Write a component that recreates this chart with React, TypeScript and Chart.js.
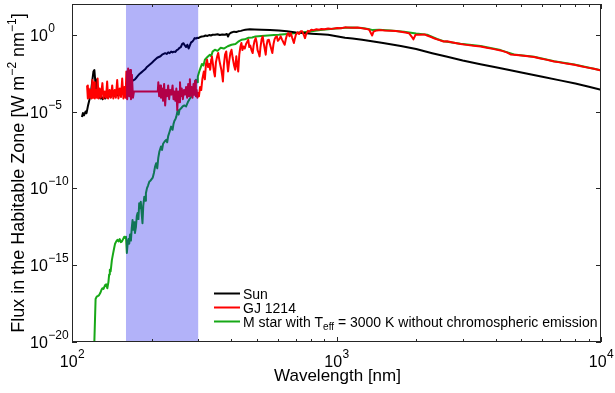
import { useEffect, useRef } from 'react';
import { Chart, registerables } from 'chart.js';

Chart.register(...registerables);

const FONT = '"Liberation Sans", Arial, Helvetica, sans-serif';

// ---- Data: [wavelength nm, log10 flux W m^-2 nm^-1] ----
const sunSpectrum: [number, number][] = [
  [109, -5.35], [110, -5.1], [111, -5.25], [112.5, -5.0], [113.5, -5.1], [115, -4.6], [116.5, -4.2], [118, -3.7],
  [119.3, -3.0], [120.5, -2.4], [121.5, -2.3], [122.3, -2.9], [123.2, -3.8], [124.2, -4.0], [125.3, -3.85],
  [126.6, -3.95], [128, -4.15], [129.3, -4.05], [130.5, -4.2], [132, -4.05], [133.5, -4.15], [135, -4.0],
  [136.5, -4.1], [138, -3.95], [140, -4.05], [142, -3.9], [144, -4.0], [146.5, -3.9], [149, -3.95], [151, -3.85],
  [153, -3.9], [155, -3.8], [157, -3.75], [159, -3.6], [161, -3.5], [163, -3.35], [165, -3.2], [167, -3.1],
  [169, -3.0], [171, -2.95], [173, -2.9], [175, -2.8], [177, -2.7], [180, -2.55], [183, -2.45], [186, -2.35],
  [189, -2.25], [192, -2.1], [195, -2.0], [198, -1.9], [201, -1.8], [204, -1.7], [207, -1.6], [210, -1.5],
  [213, -1.45], [216, -1.4], [219, -1.3], [222, -1.25], [225, -1.2], [228, -1.25], [231, -1.15], [234, -1.2],
  [237, -1.1], [240, -1.15], [243, -1.1], [246, -1.12], [249, -1.0], [252, -0.95], [255, -0.85], [258, -0.8],
  [261, -0.6], [264, -0.55], [267, -0.7], [270, -0.8], [273, -0.65], [276, -0.9], [279, -0.7], [282, -0.5],
  [285, -0.45], [288, -0.35], [291, -0.22], [294, -0.25], [297, -0.2], [300, -0.22], [305, -0.15], [310, -0.12],
  [315, -0.1], [320, -0.05], [325, -0.08], [330, -0.02], [335, -0.05], [340, 0.0], [347, 0.0], [355, 0.03],
  [362, -0.02], [370, 0.02], [379, 0.0], [385, 0.05], [389, -0.12], [393, 0.05], [401, 0.15], [410, 0.2],
  [418, 0.18], [425, 0.22], [435, 0.25], [445, 0.3], [452, 0.33], [470, 0.35], [490, 0.34], [521, 0.33],
  [560, 0.31], [605, 0.28], [650, 0.22], [702, 0.15], [750, 0.11], [804, 0.07], [870, 0.03], [930, 0.0],
  [1000, -0.1], [1077, -0.2], [1150, -0.24], [1250, -0.33], [1500, -0.54], [1750, -0.74], [2000, -0.93],
  [2300, -1.2], [2600, -1.42], [3000, -1.68], [3500, -1.92], [4000, -2.12], [4500, -2.3], [5000, -2.46],
  [6000, -2.74], [7000, -2.97], [8000, -3.18], [9000, -3.39], [10000, -3.59],
];

const gj1214Spectrum: [number, number][] = [
  [114, -3.3], [114.8, -4.15], [115.7, -3.5], [116.6, -4.1], [117.6, -3.6], [118.5, -4.15], [119.4, -2.95],
  [120.2, -4.1], [121.2, -3.1], [122, -4.15], [123.2, -3.6], [124.2, -4.1], [125, -2.85], [126, -4.15],
  [127.2, -3.5], [128.5, -4.1], [130.3, -3.15], [131.5, -4.15], [133, -3.7], [134.5, -4.1], [135.8, -3.05],
  [137, -4.15], [138.8, -3.6], [140.3, -4.1], [141.9, -3.3], [143.3, -4.15], [145, -3.6], [146.5, -4.1],
  [148.2, -2.95], [149.8, -4.15], [151.6, -3.5], [153.2, -4.05], [154.8, -2.85], [156.5, -4.15], [158, -3.4],
  [159.5, -4.1], [160.5, -2.4], [161.7, -4.2], [163, -2.2], [164.6, -4.0], [166, -2.3], [167.1, -4.2],
  [168.5, -2.6], [170, -4.1], [171.5, -3.7], [211, -3.7],
  [212, -3.1], [213.5, -4.0], [215.5, -3.3], [217, -4.1], [219, -3.5], [221, -4.3], [223, -3.2], [225, -4.6],
  [227, -3.6], [229, -4.0], [231, -3.3], [233, -4.2], [235, -3.6], [237.5, -3.9], [240, -3.3], [242, -4.2],
  [244, -3.7], [246, -4.3], [248, -3.5], [250, -4.9], [252, -3.7], [254, -4.4], [256, -3.1], [258, -4.0],
  [260, -3.5], [262.5, -4.2], [265, -3.6], [267.5, -3.9], [270, -3.4], [272.5, -4.1], [275, -3.2], [277, -4.0],
  [279, -2.9], [281, -3.9], [283, -3.4], [285.5, -4.1], [288, -3.2], [290, -3.9], [292, -3.0], [294, -4.0],
  [296, -3.6], [298, -4.1], [300, -3.8],
  [302, -4.0], [305, -3.4], [308, -3.6], [311, -2.9], [315, -2.4], [318, -2.9], [321, -1.9], [324, -1.63],
  [327, -2.1], [330, -1.9], [333, -2.28], [336, -1.6], [338, -1.41], [341, -1.9], [344, -2.4], [347, -2.72],
  [350, -1.8], [354, -1.4], [357, -1.19], [361, -1.7], [364, -2.0], [367, -2.28], [370, -2.7], [372, -3.04],
  [375, -2.0], [379, -1.3], [383, -1.09], [386, -1.8], [389, -2.39], [393, -1.7], [397, -1.2], [401, -0.98],
  [405, -1.5], [410, -2.0], [414, -2.28], [418, -1.4], [421, -1.9], [425, -2.39], [429, -1.3], [433, -0.8],
  [437, -0.54], [441, -1.0], [445, -0.76], [450, -0.9], [455, -0.6], [460, -0.45], [464, -0.33], [468, -0.8],
  [472, -0.7], [477, -1.0], [482, -1.19], [486, -0.7], [490, -0.4], [495, -0.22], [499, -0.5], [503, -1.0],
  [508, -1.2], [512, -1.41], [516, -0.8], [521, -0.3], [526, -0.11], [530, -0.5], [535, -0.9], [540, -1.3],
  [544, -0.7], [549, -0.35], [555, -0.33], [560, -0.6], [566, -0.9], [572, -1.19], [578, -0.6], [583, -0.3],
  [589, -0.15], [595, -0.11], [600, -0.4], [607, -0.3], [615, -0.11], [622, -0.3], [630, -0.5], [637, -0.65],
  [643, -0.3], [650, 0.0], [657, 0.11], [664, -0.1], [672, 0.1], [680, -0.2], [690, -0.54], [695, -0.3],
  [702, 0.0], [712, 0.15], [722, 0.05], [732, 0.22], [742, 0.22], [752, 0.0], [760, -0.22], [768, 0.05],
  [780, 0.25], [790, 0.2], [803, 0.33], [820, 0.3], [840, 0.36], [860, 0.33], [876, 0.37], [900, 0.35],
  [930, 0.4], [960, 0.38], [1006, 0.44], [1040, 0.42], [1077, 0.48],
  [1100, 0.47], [1150, 0.45], [1200, 0.47], [1250, 0.42], [1300, 0.38], [1330, 0.32], [1350, 0.1], [1364, -0.05],
  [1380, 0.2], [1420, 0.28], [1470, 0.3], [1520, 0.27], [1600, 0.26], [1680, 0.24], [1750, 0.2], [1820, 0.15],
  [1880, 0.1], [1920, -0.1], [1953, -0.3], [1990, 0.0], [2071, 0.0], [2150, 0.02], [2200, -0.05], [2280, -0.15],
  [2350, -0.25], [2450, -0.35], [2540, -0.44], [2620, -0.42], [2750, -0.5], [2942, -0.61], [3100, -0.66],
  [3300, -0.72], [3505, -0.76], [3700, -0.85], [3900, -0.92], [4169, -1.02], [4400, -1.15], [4550, -1.28],
  [4687, -1.3], [4900, -1.33], [5200, -1.38], [5584, -1.45], [5900, -1.55], [6200, -1.62], [6652, -1.74],
  [7000, -1.8], [7400, -1.88], [7925, -1.96], [8400, -2.05], [8900, -2.14], [9400, -2.22], [10000, -2.33],
];

const mStarSpectrum: [number, number][] = [
  [121, -21], [122.8, -17.2], [124, -17.05], [125.5, -17.0], [126.6, -16.95], [128, -16.8], [129.3, -16.6],
  [130.3, -16.5], [131.5, -16.55], [133.4, -16.3], [134.7, -16.25], [136, -16.5], [137.3, -16.1], [138.2, -15.6],
  [139, -15.3], [140, -15.4], [141.5, -14.67], [142.8, -14.3], [144.3, -13.9], [145.5, -13.6], [147, -13.45],
  [148.5, -13.35], [150, -13.45], [151.5, -13.3], [153, -13.5], [154.5, -13.45], [156, -13.3], [157.6, -13.15],
  [159, -13.25], [160, -13.15], [161.2, -14.2], [162.5, -13.5], [163.5, -13.3], [164.6, -13.6], [165.8, -13.0],
  [167, -13.4], [168.2, -12.6], [169.4, -12.06], [170.5, -12.7], [171.8, -12.2], [173, -12.9], [174.5, -12.5],
  [175.8, -11.8], [177, -11.6], [178.3, -12.0], [179.5, -10.97], [181, -11.3], [182, -10.87], [183.3, -11.6],
  [184.7, -12.27], [186, -11.1], [187.7, -10.54], [189, -10.8], [190.3, -10.32], [192, -10.0], [194, -9.8],
  [196.1, -9.56], [198, -9.5], [200, -9.4], [202, -9.3], [204, -9.0], [206, -8.6], [208, -8.36], [210, -8.7],
  [212, -8.0], [214, -7.6], [217, -7.28], [219, -7.5], [221, -7.1], [224, -6.95], [227, -6.84], [229, -7.0],
  [231, -6.6], [234, -6.3], [237, -5.98], [240, -6.19], [242, -5.8], [244, -5.6], [246, -5.5], [248, -5.33],
  [251, -4.89], [253, -5.2], [255, -4.89], [258, -4.8], [262, -4.67], [266, -4.6], [270, -4.67], [274, -4.4],
  [278, -4.2], [283, -4.02], [287, -3.6], [291, -3.15], [294, -2.93], [297, -3.1], [299, -2.72],
  [304, -2.3], [310, -1.9], [314, -2.0], [318, -1.63], [325, -1.45], [332, -1.3], [336, -1.4], [340, -1.1],
  [347, -0.98], [355, -1.05], [365, -0.85], [375, -0.9], [388, -0.75], [401, -0.65], [415, -0.6], [425, -0.45],
  [437, -0.33], [450, -0.3], [465, -0.2], [480, -0.18], [494, -0.11], [520, -0.08], [550, -0.05], [580, -0.02],
  [605, 0.0], [650, 0.05], [702, 0.11], [750, 0.16], [804, 0.22], [870, 0.3], [950, 0.38], [1077, 0.46],
  [1150, 0.47], [1250, 0.44], [1330, 0.36], [1370, 0.3], [1450, 0.32], [1600, 0.28], [1800, 0.19], [2000, 0.08],
  [2200, 0.0], [2400, -0.28], [2540, -0.42], [2942, -0.59], [3505, -0.74], [4169, -1.0], [4687, -1.28],
  [5584, -1.43], [6652, -1.72], [7925, -1.94], [10000, -2.31],
];

const bandRange = [160, 300]; // shaded wavelength band, nm
const xMajorTicks = [100, 1000, 10000];
const xMinorTicks = [200, 300, 400, 500, 600, 700, 800, 900, 2000, 3000, 4000, 5000, 6000, 7000, 8000, 9000];
const yMajorTicks = [1e-20, 1e-15, 1e-10, 1e-5, 1e0];
const xTickExponents = ['2', '3', '4'];
const yTickExponents = ['−20', '−15', '−10', '−5', '0'];
const legendLabels = ['Sun', 'GJ 1214', 'M star'];
const seriesColors = ['#000000', '#ff0000', '#17a817'];

const toPoints = (s: [number, number][]) => s.map(([w, l]) => ({ x: w, y: Math.pow(10, l) }));

function segWidth(ctx: CanvasRenderingContext2D, text: string, size: number) {
  ctx.font = `${size}px ${FONT}`;
  return ctx.measureText(text).width;
}

const overlayPlugin = {
  id: 'overlay',
  afterDatasetsDraw(chart: any) {
    const { ctx, chartArea } = chart;
    const xs = chart.scales.x;
    const x0 = xs.getPixelForValue(bandRange[0]);
    const x1 = xs.getPixelForValue(bandRange[1]);
    ctx.save();
    ctx.fillStyle = 'rgba(0,0,235,0.3)';
    ctx.fillRect(x0, chartArea.top, x1 - x0, chartArea.bottom - chartArea.top);
    ctx.restore();
  },
  afterDraw(chart: any) {
    const { ctx, chartArea } = chart;
    const { left, right, top, bottom } = chartArea;
    const xs = chart.scales.x;
    const ys = chart.scales.y;
    ctx.save();
    ctx.strokeStyle = '#262626';
    ctx.lineWidth = 1;
    ctx.strokeRect(Math.round(left) + 0.5, Math.round(top) + 0.5, Math.round(right - left) - 1, Math.round(bottom - top) - 1);
    ctx.beginPath();
    const tick = (px: number, len: number) => {
      const x = Math.round(px) + 0.5;
      ctx.moveTo(x, bottom); ctx.lineTo(x, bottom - len);
      ctx.moveTo(x, top); ctx.lineTo(x, top + len);
    };
    xMajorTicks.forEach(v => tick(xs.getPixelForValue(v), 5));
    xMinorTicks.forEach(v => tick(xs.getPixelForValue(v), 3));
    yMajorTicks.forEach(v => {
      const y = Math.round(ys.getPixelForValue(v)) + 0.5;
      ctx.moveTo(left, y); ctx.lineTo(left + 5, y);
      ctx.moveTo(right, y); ctx.lineTo(right - 5, y);
    });
    ctx.stroke();

    ctx.fillStyle = '#000';
    ctx.textBaseline = 'alphabetic';
    ctx.textAlign = 'left';
    const baseSize = 16, supSize = 12;
    xMajorTicks.forEach((v, i) => {
      const px = xs.getPixelForValue(v);
      const w1 = segWidth(ctx, '10', baseSize);
      const w2 = segWidth(ctx, xTickExponents[i], supSize);
      const sx = px - (w1 + w2) / 2;
      ctx.font = `${baseSize}px ${FONT}`;
      ctx.fillText('10', sx, 367);
      ctx.font = `${supSize}px ${FONT}`;
      ctx.fillText(xTickExponents[i], sx + w1 + 0.5, 358);
    });
    yMajorTicks.forEach((v, i) => {
      const py = ys.getPixelForValue(v);
      const w1 = segWidth(ctx, '10', baseSize);
      ctx.font = `${baseSize}px ${FONT}`;
      ctx.fillText('10', 30, py + 6);
      ctx.font = `${supSize}px ${FONT}`;
      ctx.fillText(yTickExponents[i], 30 + w1 + 0.5, py - 3);
    });
    ctx.font = `17px ${FONT}`;
    ctx.textAlign = 'center';
    ctx.fillText('Wavelength [nm]', (left + right) / 2 + 1, 381);
    ctx.textAlign = 'left';
    const tSize = 18, tSup = 12;
    const segs: [string, boolean][] = [
      ['Flux in the Habitable Zone [W m', false], ['−2', true], [' nm', false], ['−1', true], [']', false],
    ];
    const widths = segs.map(([t, s]) => segWidth(ctx, t, s ? tSup : tSize));
    const total = widths.reduce((a, b) => a + b, 0);
    ctx.save();
    ctx.translate(24, (top + bottom) / 2);
    ctx.rotate(-Math.PI / 2);
    let cx = -total / 2;
    segs.forEach(([t, s], i) => {
      ctx.font = `${s ? tSup : tSize}px ${FONT}`;
      ctx.fillText(t, cx, s ? -8 : 0);
      cx += widths[i];
    });
    ctx.restore();

    const lx0 = 214, lx1 = 240, tx = 243;
    const rows = [293.5, 307.5, 321.5];
    ctx.lineWidth = 2;
    rows.forEach((ry, i) => {
      ctx.strokeStyle = seriesColors[i];
      ctx.beginPath();
      ctx.moveTo(lx0, ry); ctx.lineTo(lx1, ry);
      ctx.stroke();
    });
    const lSize = 14, lSub = 10;
    ctx.fillStyle = '#000';
    ctx.font = `${lSize}px ${FONT}`;
    ctx.fillText(legendLabels[0], tx, rows[0] + 5);
    ctx.fillText(legendLabels[1], tx, rows[1] + 5);
    const p1 = legendLabels[2] + ' with T';
    ctx.fillText(p1, tx, rows[2] + 5);
    const w1 = segWidth(ctx, p1, lSize);
    ctx.font = `${lSub}px ${FONT}`;
    ctx.fillText('eff', tx + w1, rows[2] + 8);
    const w2 = segWidth(ctx, 'eff', lSub);
    ctx.font = `${lSize}px ${FONT}`;
    ctx.fillText(' = 3000 K without chromospheric emission', tx + w1 + w2, rows[2] + 5);
    ctx.restore();
  },
};

export default function App() {
  const ref = useRef<HTMLCanvasElement | null>(null);
  useEffect(() => {
    document.body.style.margin = '0';
    const canvas = ref.current!;
    const chart = new Chart(canvas, {
      type: 'line',
      data: {
        datasets: [
          { label: 'Sun', data: toPoints(sunSpectrum), borderColor: seriesColors[0], borderWidth: 2, order: 2 },
          { label: 'GJ 1214', data: toPoints(gj1214Spectrum), borderColor: seriesColors[1], borderWidth: 2, order: 1 },
          { label: 'M star', data: toPoints(mStarSpectrum), borderColor: seriesColors[2], borderWidth: 2, order: 3 },
        ] as any,
      },
      options: {
        animation: false,
        responsive: false,
        devicePixelRatio: 1,
        parsing: false as any,
        layout: { padding: { top: 4, right: 14, left: 0, bottom: 0 } },
        elements: {
          point: { radius: 0 },
          line: { tension: 0, borderJoinStyle: 'round', fill: false },
        },
        plugins: { legend: { display: false }, tooltip: { enabled: false } },
        scales: {
          x: {
            type: 'logarithmic', min: 100, max: 10000,
            ticks: { display: false }, grid: { display: false, drawTicks: false }, border: { display: false },
            afterFit: (s: any) => { s.height = 51; },
          },
          y: {
            type: 'logarithmic', min: 1e-20, max: 100,
            ticks: { display: false }, grid: { display: false, drawTicks: false }, border: { display: false },
            afterFit: (s: any) => { s.width = 72; },
          },
        },
      } as any,
      plugins: [overlayPlugin],
    });
    return () => chart.destroy();
  }, []);
  return (
    <div style={{ width: 615, height: 393, position: 'relative' }}>
      <canvas ref={ref} width={615} height={393} style={{ display: 'block' }} />
    </div>
  );
}
